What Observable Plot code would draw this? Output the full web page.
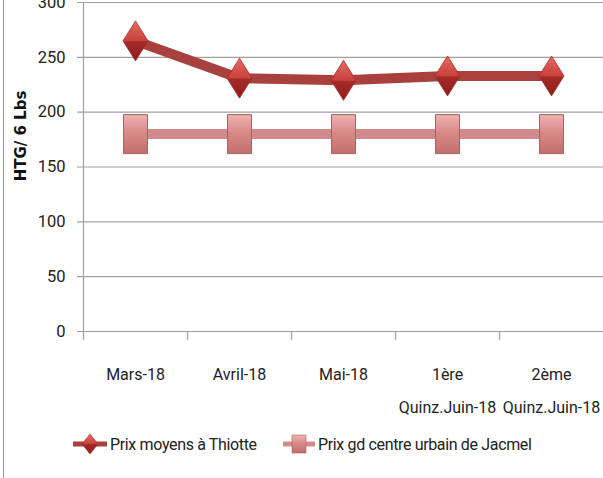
<!DOCTYPE html>
<html>
<head>
<meta charset="utf-8">
<script src="https://cdn.jsdelivr.net/npm/d3@7"></script>
<script src="https://cdn.jsdelivr.net/npm/@observablehq/plot@0.6"></script>
<style>
  html, body { margin: 0; padding: 0; background: #fff; }
  body { width: 603px; height: 478px; overflow: hidden; position: relative; font-family: Roboto, sans-serif; }
  #border { position: absolute; left: 3px; top: 0; width: 1px; height: 478px; background: #9a9a9a; }
  #legend { position: absolute; left: 0; top: 430px; width: 603px; height: 28px; font-size: 16px; letter-spacing: -0.35px; color: #222; }
  .li { position: absolute; top: 0; display: flex; align-items: center; height: 28px; white-space: nowrap; }
  .li svg { margin-right: 3px; }
  #ytitle { position: absolute; left: 21px; top: 136px; transform: translate(-50%, -50%) rotate(-90deg); font-family: "DejaVu Sans", sans-serif; font-weight: bold; font-size: 15px; color: #111; white-space: nowrap; }
  #chart svg text.lbl { letter-spacing: -0.3px; }
</style>
</head>
<body>
<div id="chart"></div>
<div id="legend"></div>
<div id="ytitle"></div>
<div id="border"></div>
<script>
const categories = ["Mars-18", "Avril-18", "Mai-18", "1ère\nQuinz.Juin-18", "2ème\nQuinz.Juin-18"];
const thiotte = [265, 231, 229, 233, 233];
const jacmel = [180, 180, 180, 180, 180];
const yTicks = [0, 50, 100, 150, 200, 250, 300];
const seriesNames = ["Prix moyens à Thiotte", "Prix gd centre urbain de Jacmel"];
const yTitle = "HTG/ 6 Lbs";

const dataT = categories.map((c, i) => ({cat: c, v: thiotte[i]}));
const dataJ = categories.map((c, i) => ({cat: c, v: jacmel[i]}));

const tallDiamond = {
  draw(ctx, size) {
    const w = 12.5, h = 20;
    ctx.moveTo(0, -h); ctx.lineTo(w, 0); ctx.lineTo(0, h); ctx.lineTo(-w, 0); ctx.closePath();
  }
};
const tallSquare = {
  draw(ctx, size) {
    const w = 12, h = 19.5;
    ctx.moveTo(-w, -h); ctx.lineTo(w, -h); ctx.lineTo(w, h); ctx.lineTo(-w, h); ctx.closePath();
  }
};

const font = "Roboto, sans-serif";
const band = 104;

const chart = Plot.plot({
  width: 603,
  height: 422,
  marginLeft: 83,
  marginRight: 0,
  marginTop: 2,
  marginBottom: 91,
  style: {fontFamily: font, background: "transparent", overflow: "visible"},
  x: {type: "band", domain: categories, padding: 0, axis: null},
  y: {domain: [0, 300], axis: null},
  marks: [
    Plot.ruleY(yTicks, {stroke: "#a0a0a0", strokeWidth: 1.2, insetLeft: -6}),
    Plot.ruleX(categories, {x: d => d, dx: -band / 2, y1: 0, y2: 0, insetBottom: -9, stroke: "#a0a0a0", strokeWidth: 1.2}),
    Plot.ruleX([categories[0]], {x: d => d, dx: -band / 2, y1: 0, y2: 300, stroke: "#a0a0a0", strokeWidth: 1.2}),
    Plot.text(yTicks, {x: () => categories[0], y: d => d, text: d => String(d), dx: -band / 2 - 18, textAnchor: "end", lineAnchor: "middle", fontSize: 16.5, fill: "#222"}),
    Plot.text(categories, {x: d => d, y: () => 0, text: d => d.split("\n")[0], dy: 43, lineAnchor: "middle", fontSize: 16, fill: "#222", className: "lbl"}),
    Plot.text(categories.filter(d => d.includes("\n")), {x: d => d, y: () => 0, text: d => d.split("\n")[1], dy: 76, lineAnchor: "middle", fontSize: 16, fill: "#222", className: "lbl"}),
    Plot.line(dataJ, {x: "cat", y: "v", stroke: "#d38a8a", strokeWidth: 10}),
    Plot.dot(dataJ, {x: "cat", y: "v", symbol: tallSquare, r: 10, fill: "url(#gSq)", stroke: "#a86262", strokeWidth: 1}),
    Plot.line(dataT, {x: "cat", y: "v", stroke: "#a8403d", strokeWidth: 10}),
    Plot.dot(dataT, {x: "cat", y: "v", symbol: tallDiamond, r: 10, fill: "url(#gDi)", stroke: "#9a2e2b", strokeWidth: 0.8})
  ]
});

const defs = `<defs>
<linearGradient id="gDi" x1="0" y1="0" x2="0" y2="1">
  <stop offset="0" stop-color="#e86a66"/>
  <stop offset="0.5" stop-color="#c8403c"/>
  <stop offset="0.52" stop-color="#a52a28"/>
  <stop offset="1" stop-color="#8c1e1d"/>
</linearGradient>
<linearGradient id="gSq" x1="0" y1="0" x2="0" y2="1">
  <stop offset="0" stop-color="#f0b4b2"/>
  <stop offset="0.45" stop-color="#d98a88"/>
  <stop offset="1" stop-color="#c06e6c"/>
</linearGradient>
</defs>`;
chart.insertAdjacentHTML("afterbegin", defs);
document.getElementById("chart").appendChild(chart);
document.getElementById("ytitle").textContent = yTitle;

const legend = document.getElementById("legend");
const items = [
  {left: 73, name: seriesNames[0], sw: `<svg width="34" height="26"><line x1="0" y1="13" x2="34" y2="13" stroke="#a8403d" stroke-width="5"/><path d="M17 3 L25 13 L17 23 L9 13 Z" fill="url(#gDi)" stroke="#9a2e2b" stroke-width="0.6"/></svg>`},
  {left: 283, name: seriesNames[1], sw: `<svg width="32" height="26"><line x1="0" y1="13" x2="32" y2="13" stroke="#d38a8a" stroke-width="5"/><rect x="9" y="4" width="14" height="18" fill="url(#gSq)" stroke="#a86262" stroke-width="0.6"/></svg>`}
];
items.forEach(it => {
  const d = document.createElement("div");
  d.className = "li";
  d.style.left = it.left + "px";
  d.innerHTML = it.sw + `<span>${it.name}</span>`;
  legend.appendChild(d);
});
</script>
</body>
</html>
